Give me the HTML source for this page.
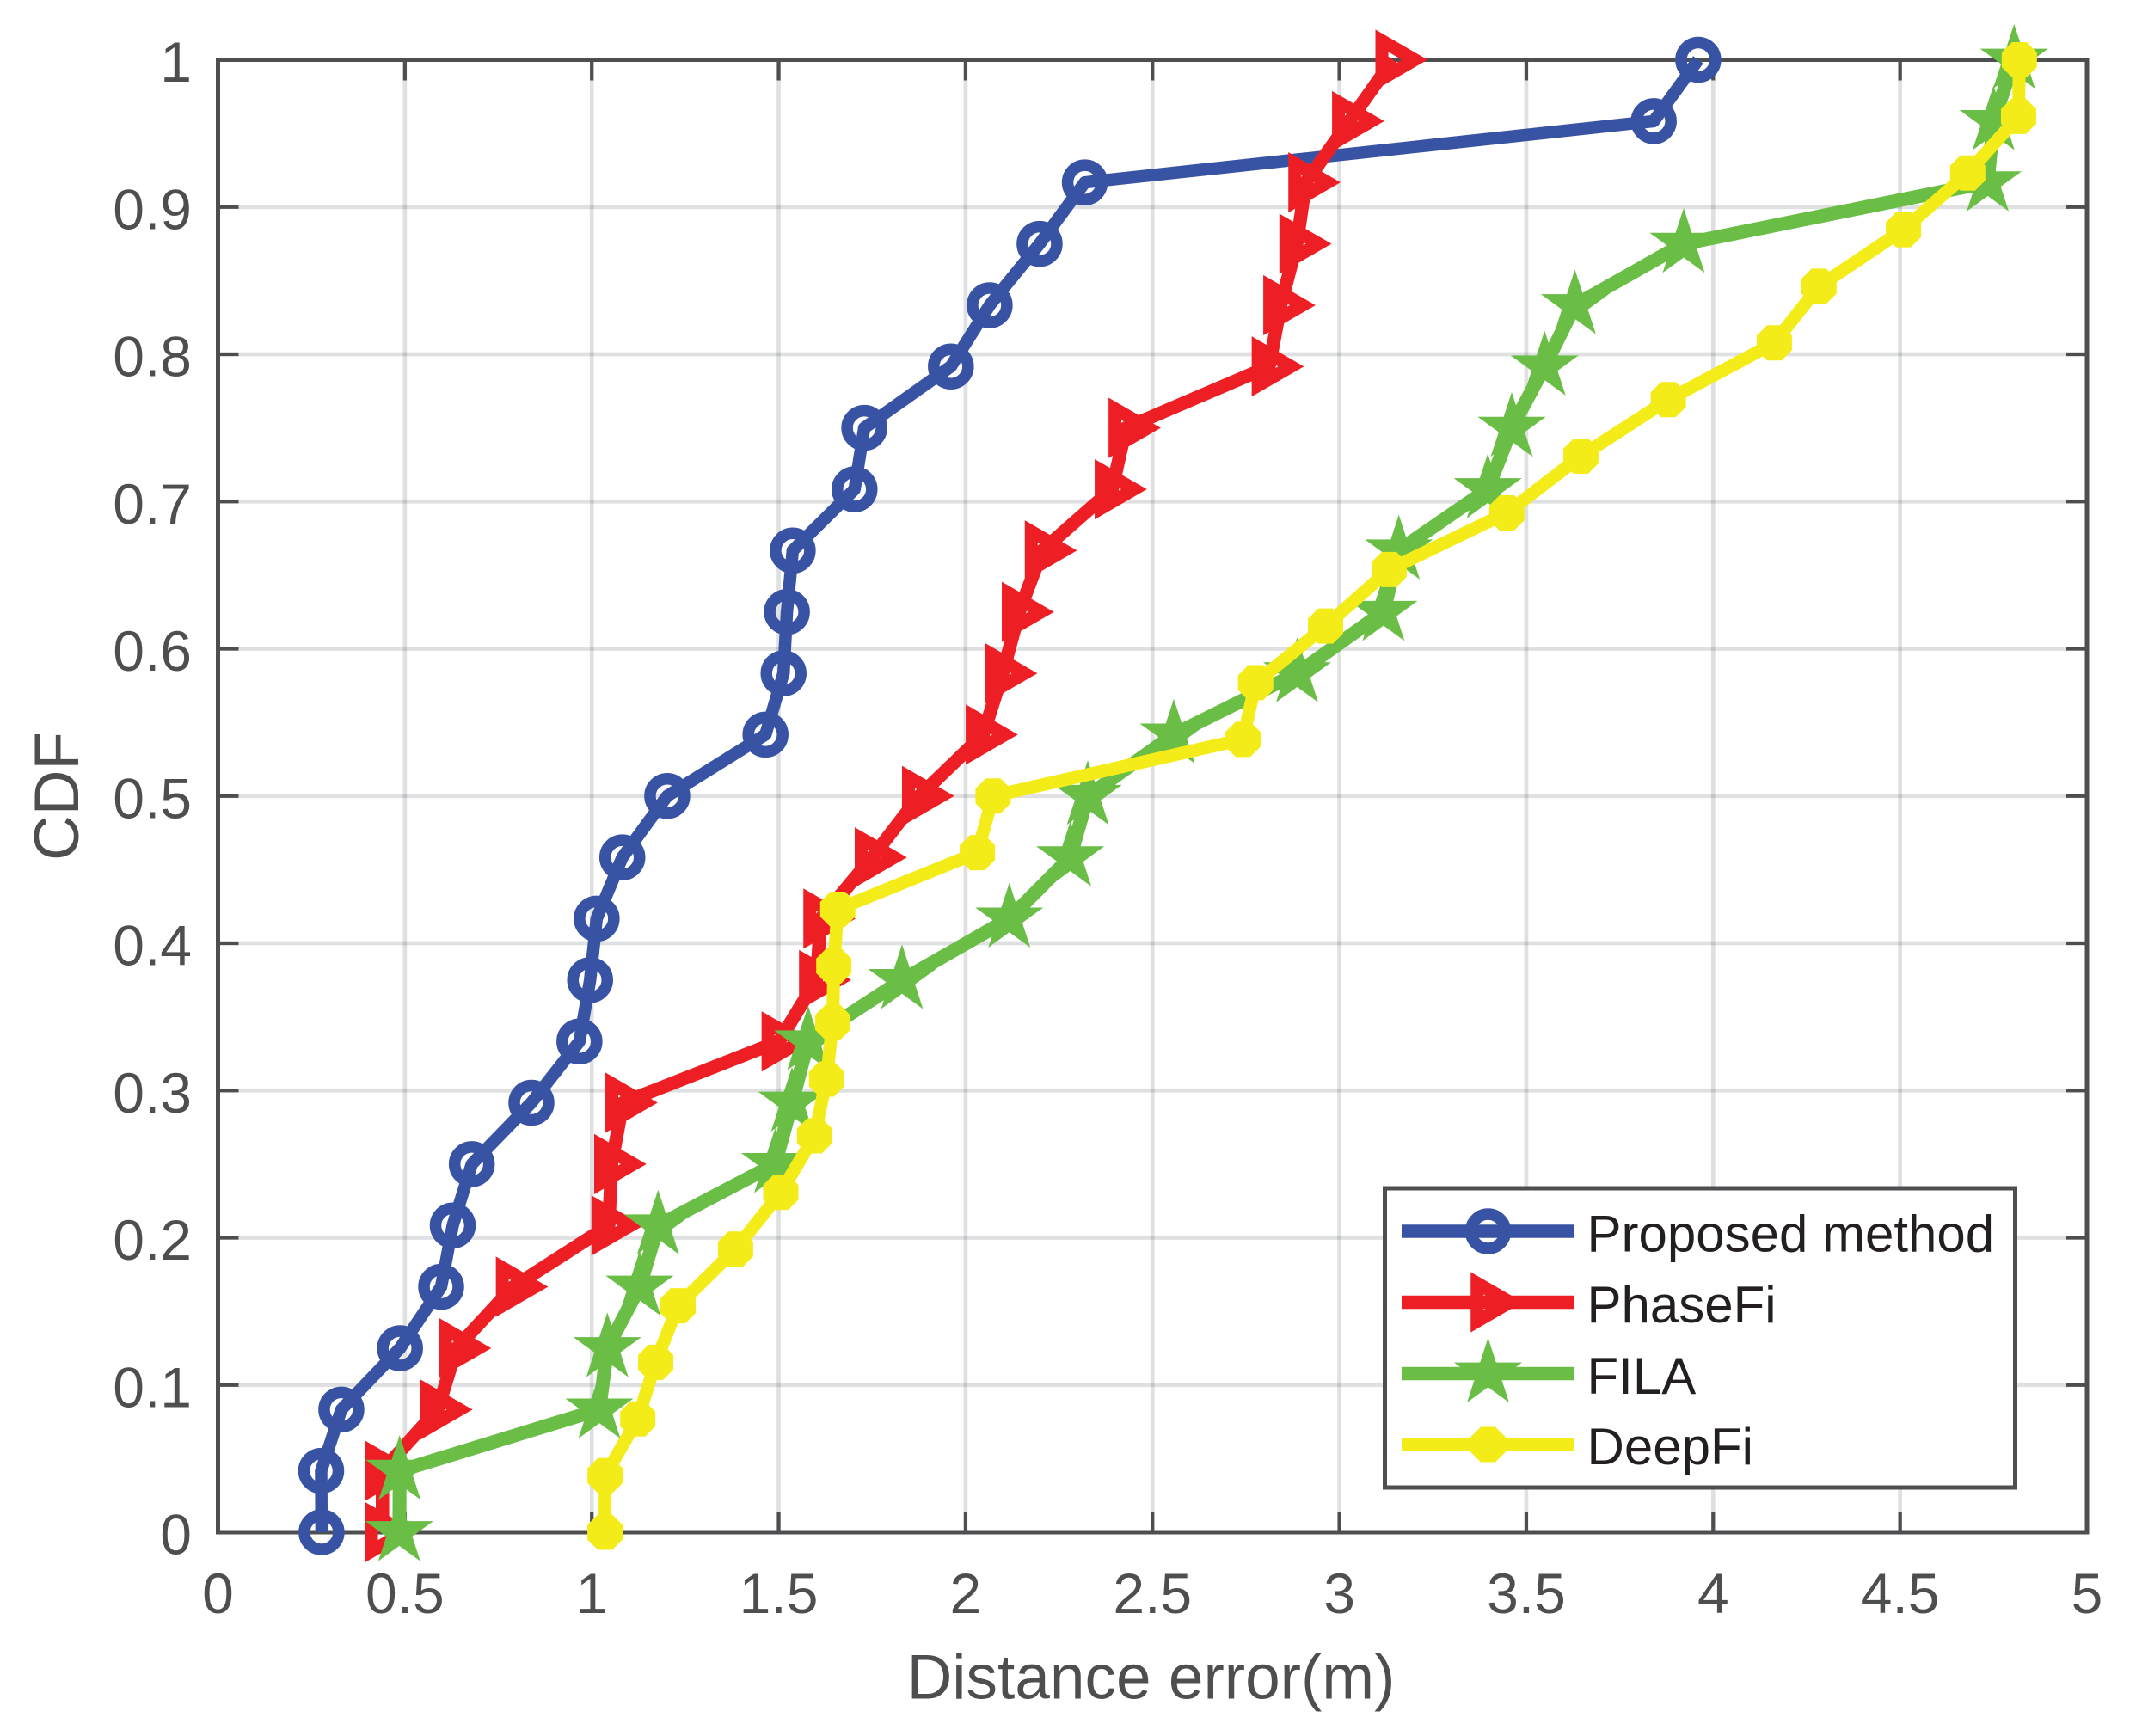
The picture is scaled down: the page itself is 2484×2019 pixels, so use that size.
<!DOCTYPE html>
<html lang="en">
<head>
<meta charset="utf-8">
<title>CDF of distance error</title>
<style>
  html, body { margin: 0; padding: 0; background: #ffffff; }
  svg { display: block; font-family: "Liberation Sans", Arial, sans-serif; }
</style>
</head>
<body>
<svg id="chart" xmlns="http://www.w3.org/2000/svg" width="2484" height="2019" viewBox="0 0 2484 2019">
  <rect x="0" y="0" width="2484" height="2019" fill="#ffffff"/>
  <g id="grid"></g>
  <g id="ticks"></g>
  <rect x="253.5" y="69.5" width="2173.5" height="1712.5" fill="none" stroke="#4d4e50" stroke-width="5"/>
  <g id="tick-labels" font-size="66" fill="#4d4e50"></g>
  <text x="1338.5" y="1975.5" font-size="73" fill="#4d4e50" text-anchor="middle">Distance error(m)</text>
  <text transform="translate(91 926) rotate(-90)" font-size="73" fill="#4d4e50" text-anchor="middle">CDF</text>
  <g id="series"></g>
  <g id="legend">
    <rect x="1610.5" y="1382" width="733" height="348" fill="#ffffff" stroke="#4d4e50" stroke-width="5"/>
    <g id="legend-keys"></g>
    <g font-size="60" fill="#231f20">
      <text x="1845.5" y="1455.5">Proposed method</text>
      <text x="1845.5" y="1538">PhaseFi</text>
      <text x="1845.5" y="1621">FILA</text>
      <text x="1845.5" y="1703">DeepFi</text>
    </g>
  </g>
</svg>
<script>
const xTicks = [0, 0.5, 1, 1.5, 2, 2.5, 3, 3.5, 4, 4.5, 5];
const xTickLabels = ['0', '0.5', '1', '1.5', '2', '2.5', '3', '3.5', '4', '4.5', '5'];
const yTicks = [0, 0.1, 0.2, 0.3, 0.4, 0.5, 0.6, 0.7, 0.8, 0.9, 1];
const yTickLabels = ['0', '0.1', '0.2', '0.3', '0.4', '0.5', '0.6', '0.7', '0.8', '0.9', '1'];

const proposedX = [0.277, 0.276, 0.330, 0.487, 0.597, 0.628, 0.679, 0.8385, 0.967, 0.9955, 1.013, 1.0817, 1.2018, 1.4647, 1.513, 1.522, 1.5376, 1.703, 1.729, 1.9607, 2.0644, 2.198, 2.319, 3.841, 3.96];
const proposedY = [0, 0.0417, 0.0833, 0.125, 0.1667, 0.2083, 0.25, 0.2917, 0.3333, 0.375, 0.4167, 0.4583, 0.5, 0.5417, 0.5833, 0.625, 0.6667, 0.7083, 0.75, 0.7917, 0.8333, 0.875, 0.9167, 0.9583, 1];

const phaseFiX = [0.44, 0.44, 0.5878, 0.638, 0.79, 1.0456, 1.053, 1.083, 1.5008, 1.601, 1.6126, 1.75, 1.8765, 2.047, 2.099, 2.1435, 2.205, 2.392, 2.429, 2.812, 2.843, 2.886, 2.91, 3.027, 3.143];
const phaseFiY = [0, 0.0417, 0.0833, 0.125, 0.1667, 0.2083, 0.25, 0.2917, 0.3333, 0.375, 0.4167, 0.4583, 0.5, 0.5417, 0.5833, 0.625, 0.6667, 0.7083, 0.75, 0.7917, 0.8333, 0.875, 0.9167, 0.9583, 1];

const filaX = [0.485, 0.486, 1.0203, 1.0416, 1.128, 1.1774, 1.4905, 1.5356, 1.5788, 1.83, 2.117, 2.28, 2.327, 2.557, 2.887, 3.118, 3.159, 3.397, 3.461, 3.549, 3.63, 3.921, 4.7345, 4.75, 4.805];
const filaY = [0, 0.0417, 0.0833, 0.125, 0.1667, 0.2083, 0.25, 0.2917, 0.3333, 0.375, 0.4167, 0.4583, 0.5, 0.5417, 0.5833, 0.625, 0.6667, 0.7083, 0.75, 0.7917, 0.8333, 0.875, 0.9167, 0.9583, 1];

const deepFiX = [1.0354, 1.0357, 1.123, 1.171, 1.2307, 1.3846, 1.5057, 1.596, 1.628, 1.6446, 1.6475, 1.658, 2.0315, 2.0736, 2.742, 2.776, 2.963, 3.133, 3.448, 3.646, 3.88, 4.1636, 4.283, 4.509, 4.681, 4.817, 4.819];
const deepFiY = [0, 0.0385, 0.0769, 0.1154, 0.1538, 0.1923, 0.2308, 0.2692, 0.3077, 0.3462, 0.3846, 0.4231, 0.4615, 0.5, 0.5385, 0.5769, 0.6154, 0.6538, 0.6923, 0.7308, 0.7692, 0.8077, 0.8462, 0.8846, 0.9231, 0.9615, 1];

const NS = 'http://www.w3.org/2000/svg';
const plotLeft = 253.5, plotRight = 2427, plotTop = 69.5, plotBottom = 1782;
const INK = '#4d4e50';
const xScale = v => plotLeft + (v - 0) / (5 - 0) * (plotRight - plotLeft);
const yScale = v => plotBottom - (v - 0) / (1 - 0) * (plotBottom - plotTop);

function make(tag, attrs, parent) {
  const el = document.createElementNS(NS, tag);
  for (const k in attrs) el.setAttribute(k, attrs[k]);
  parent.appendChild(el);
  return el;
}
function polyPoints(cx, cy, pts) {
  return pts.map(p => (cx + p[0]).toFixed(2) + ',' + (cy + p[1]).toFixed(2)).join(' ');
}
function starPts(R) {
  const r = R * 0.382, out = [];
  for (let i = 0; i < 10; i++) {
    const a = -Math.PI / 2 + i * Math.PI / 5, q = i % 2 ? r : R;
    out.push([q * Math.cos(a), q * Math.sin(a)]);
  }
  return out;
}
const octPts = [[-8.5,-20.5],[8.5,-20.5],[20.5,-8.5],[20.5,8.5],[8.5,20.5],[-8.5,20.5],[-20.5,8.5],[-20.5,-8.5]];
const triPts = [[-12.75,-22.1],[25.5,0],[-12.75,22.1]];

function drawMarker(kind, color, cx, cy, parent) {
  let m;
  if (kind === 'circle') {
    m = make('circle', {cx: cx, cy: cy, r: 20, fill: 'none', stroke: color, 'stroke-width': 13.5}, parent);
  } else if (kind === 'triangle') {
    m = make('polygon', {points: polyPoints(cx, cy, triPts), fill: 'none', stroke: color, 'stroke-width': 15, 'stroke-linejoin': 'miter', 'stroke-miterlimit': 10}, parent);
  } else if (kind === 'star') {
    m = make('polygon', {points: polyPoints(cx, cy, starPts(41.6)), fill: color}, parent);
  } else {
    m = make('polygon', {points: polyPoints(cx, cy, octPts), fill: color}, parent);
  }
  return m;
}

/* grid and ticks */
const gridG = document.getElementById('grid');
const tickG = document.getElementById('ticks');
const labelG = document.getElementById('tick-labels');
const TL = 24;

xTicks.forEach((t, i) => {
  const x = xScale(t);
  if (t > 0 && t < 5) {
    const g = make('line', {x1: x, x2: x, y1: plotTop, y2: plotBottom, stroke: '#2b2f38', 'stroke-opacity': 0.15, 'stroke-width': 4.7}, gridG);
    
    
  }
  const a = make('line', {x1: x, x2: x, y1: plotBottom, y2: plotBottom - TL, stroke: INK, 'stroke-width': 4.2}, tickG);
  
  
  const b = make('line', {x1: x, x2: x, y1: plotTop, y2: plotTop + TL, stroke: INK, 'stroke-width': 4.2}, tickG);
  
  
  const l = make('text', {x: x, y: 1876, 'text-anchor': 'middle'}, labelG);
  l.textContent = xTickLabels[i];
  
  
});

yTicks.forEach((t, i) => {
  const y = yScale(t);
  if (t > 0 && t < 1) {
    const g = make('line', {x1: plotLeft, x2: plotRight, y1: y, y2: y, stroke: '#2b2f38', 'stroke-opacity': 0.15, 'stroke-width': 4.7}, gridG);
    
    
  }
  const a = make('line', {x1: plotLeft, x2: plotLeft + TL, y1: y, y2: y, stroke: INK, 'stroke-width': 4.2}, tickG);
  
  
  const b = make('line', {x1: plotRight, x2: plotRight - TL, y1: y, y2: y, stroke: INK, 'stroke-width': 4.2}, tickG);
  
  
  const l = make('text', {x: 223, y: y + 25.5, 'text-anchor': 'end'}, labelG);
  l.textContent = yTickLabels[i];
  
  
});

/* series */
const seriesG = document.getElementById('series');
function drawSeries(name, xs, ys, color, kind, width) {
  const g = make('g', {}, seriesG);
  
  
  const pts = xs.map((v, i) => xScale(v).toFixed(2) + ',' + yScale(ys[i]).toFixed(2)).join(' ');
  const line = make('polyline', {points: pts, fill: 'none', stroke: color, 'stroke-width': width, 'stroke-linejoin': 'round', 'stroke-linecap': 'butt'}, g);
  
  
  xs.forEach((v, i) => {
    const m = drawMarker(kind, color, xScale(v), yScale(ys[i]), g);
    
    
  });
}
drawSeries('proposed-method', proposedX, proposedY, '#3953a4', 'circle', 14.5);
drawSeries('phasefi', phaseFiX, phaseFiY, '#ed1f24', 'triangle', 15.5);
drawSeries('fila', filaX, filaY, '#6abd45', 'star', 16);
drawSeries('deepfi', deepFiX, deepFiY, '#f3ec19', 'octagon', 15);

/* legend keys */
const keysG = document.getElementById('legend-keys');
function drawKey(name, y, color, kind) {
  const l = make('line', {x1: 1630, x2: 1831, y1: y, y2: y, stroke: color, 'stroke-width': 15.5}, keysG);
  
  
  const m = drawMarker(kind, color, 1730.5, y, keysG);
  
  
}
drawKey('proposed-method', 1432, '#3953a4', 'circle');
drawKey('phasefi', 1514.5, '#ed1f24', 'triangle');
drawKey('fila', 1597.5, '#6abd45', 'star');
drawKey('deepfi', 1680, '#f3ec19', 'octagon');
</script>
</body>
</html>
